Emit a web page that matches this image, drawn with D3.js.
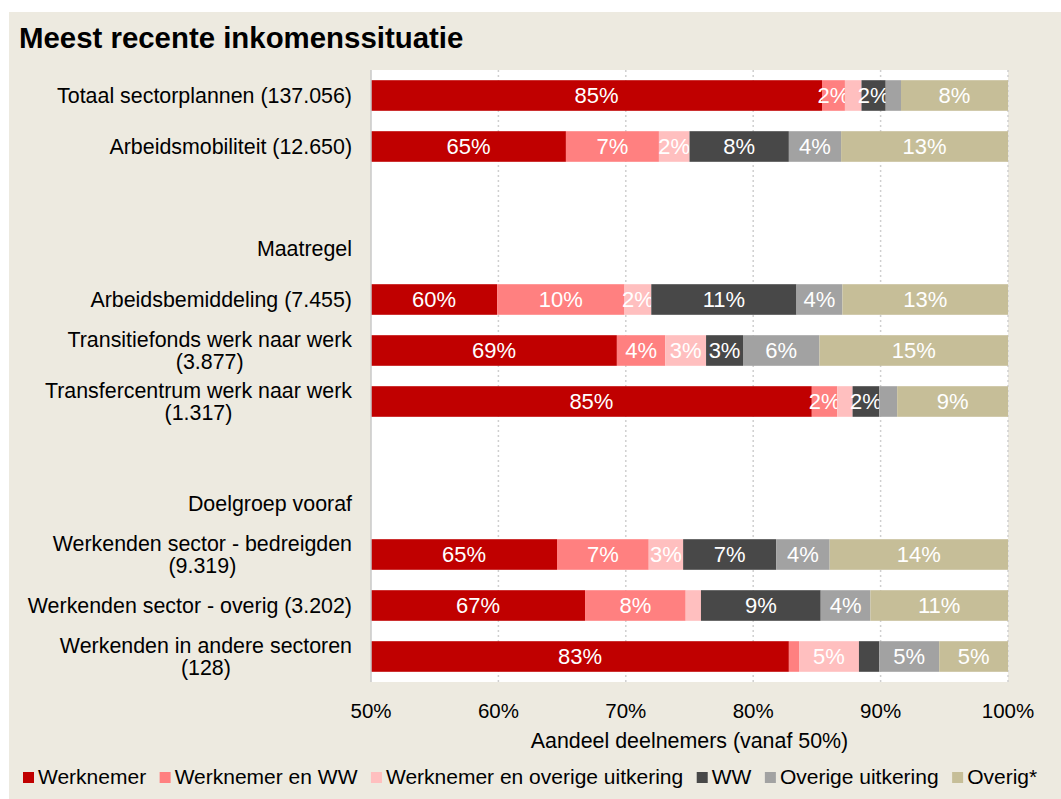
<!DOCTYPE html>
<meta charset="utf-8">
<script src="https://d3js.org/d3.v7.min.js"></script>
<style>
  body { margin: 0; }
  text { font-family: "Liberation Sans", Arial, sans-serif; }
</style>
<div id="chart"></div>
<script>

  // rows of the chart (empty rows and group headers have no values)
  var categories = [
    ["Totaal sectorplannen (137.056)"],
    ["Arbeidsmobiliteit (12.650)"],
    [""],
    ["Maatregel"],
    ["Arbeidsbemiddeling (7.455)"],
    ["Transitiefonds werk naar werk", "(3.877)"],
    ["Transfercentrum werk naar werk", "(1.317)"],
    [""],
    ["Doelgroep vooraf"],
    ["Werkenden sector - bedreigden", "(9.319)"],
    ["Werkenden sector - overig (3.202)"],
    ["Werkenden in andere sectoren", "(128)"]
  ];

  var seriesNames = ["Werknemer", "Werknemer en WW", "Werknemer en overige uitkering", "WW", "Overige uitkering", "Overig*"];
  var seriesColors = ["#C00000", "#FF8080", "#FFBFBF", "#484848", "#A2A2A2", "#C6BE98"];

  var werknemer        = [85.4, 65.3, null, null, 59.9, 69.3, 84.6, null, null, 64.6, 66.8, 82.8];
  var werknemerWW      = [ 1.8,  7.3, null, null, 10.0,  3.8,  2.0, null, null,  7.2,  7.9,  0.8];
  var werknemerOverig  = [ 1.3,  2.4, null, null,  2.1,  3.2,  1.2, null, null,  2.7,  1.2,  4.7];
  var ww               = [ 1.9,  7.8, null, null, 11.4,  2.9,  2.1, null, null,  7.3,  9.4,  1.6];
  var overigeUitkering = [ 1.2,  4.1, null, null,  3.6,  6.0,  1.4, null, null,  4.2,  3.9,  4.7];
  var overig           = [ 8.4, 13.1, null, null, 13.0, 14.8,  8.7, null, null, 14.0, 10.8,  5.4];

  var xTicks = [50, 60, 70, 80, 90, 100];

  var seriesValues = [werknemer, werknemerWW, werknemerOverig, ww, overigeUitkering, overig];

  var table = categories.map(function(c, i) {
    var row = { id: i, lines: c, empty: werknemer[i] === null };
    seriesNames.forEach(function(s, j) { row[s] = seriesValues[j][i] || 0; });
    return row;
  });

  var W = 1061, H = 799;
  var plot = { left: 371, right: 1008, top: 70, bottom: 682 };

  var svg = d3.select("#chart")
    .append("svg")
      .attr("width", W)
      .attr("height", H);

  svg.append("rect").attr("width", W).attr("height", H).attr("fill", "#ffffff");
  svg.append("rect")
    .attr("x", 9).attr("y", 12)
    .attr("width", W - 9).attr("height", H - 12)
    .attr("fill", "#EDEAE0");

  svg.append("text")
    .attr("x", 19)
    .attr("y", 48)
    .attr("font-size", "29.4px")
    .attr("font-weight", "bold")
    .attr("fill", "#000")
    .text("Meest recente inkomenssituatie");

  var x = d3.scaleLinear()
    .domain([50, 100])
    .range([plot.left, plot.right]);

  var y = d3.scaleBand()
    .domain(table.map(function(d) { return d.id; }))
    .range([plot.top, plot.bottom])
    .paddingInner(0.4)
    .paddingOuter(0.2);

  // plot area
  svg.append("rect")
    .attr("x", plot.left).attr("y", plot.top)
    .attr("width", plot.right - plot.left)
    .attr("height", plot.bottom - plot.top)
    .attr("fill", "#ffffff");

  // dotted gridlines
  svg.append("g")
    .selectAll("line")
    .data(xTicks.slice(1))
    .enter()
    .append("line")
      .attr("x1", function(d) { return x(d); })
      .attr("x2", function(d) { return x(d); })
      .attr("y1", plot.top)
      .attr("y2", plot.bottom)
      .attr("stroke", "#CFCFCF")
      .attr("stroke-width", 1.5)
      .attr("stroke-dasharray", "2,3");

  var stack = d3.stack().keys(seriesNames);
  var layers = stack(table);

  var groups = svg.append("g")
    .selectAll("g")
    .data(layers)
    .enter()
    .append("g")
      .attr("fill", function(d, i) { return seriesColors[i]; });

  groups.selectAll("rect")
    .data(function(d) { return d.filter(function(p) { return !p.data.empty; }); })
    .enter()
    .append("rect")
      .attr("x", function(d) { return x(Math.max(50, d[0])); })
      .attr("y", function(d) { return y(d.data.id); })
      .attr("width", function(d) { return Math.max(0, x(d[1]) - x(Math.max(50, d[0]))); })
      .attr("height", y.bandwidth());

  // value labels
  groups.selectAll("text")
    .data(function(d) {
      var key = d.key;
      return d.filter(function(p) { return !p.data.empty && p.data[key] >= 1.7; })
        .map(function(p) { return { x0: Math.max(50, p[0]), x1: p[1], id: p.data.id, v: p.data[key] }; });
    })
    .enter()
    .append("text")
      .attr("x", function(d) { return (x(d.x0) + x(d.x1)) / 2; })
      .attr("y", function(d) { return y(d.id) + y.bandwidth() / 2 + 7.5; })
      .attr("text-anchor", "middle")
      .attr("font-size", "22px")
      .attr("fill", "#ffffff")
      .text(function(d) { return Math.round(d.v) + "%"; });

  // left axis line
  svg.append("line")
    .attr("x1", plot.left).attr("x2", plot.left)
    .attr("y1", plot.top).attr("y2", plot.bottom)
    .attr("stroke", "#C8C8C8")
    .attr("stroke-width", 1.5);

  // category labels
  var catLabels = svg.append("g")
    .selectAll("g")
    .data(table)
    .enter()
    .append("g")
      .attr("transform", function(d) { return "translate(0," + (y(d.id) + y.bandwidth() / 2) + ")"; });

  catLabels.each(function(d) {
    var g = d3.select(this);
    var n = d.lines.length;
    var t = g.selectAll("text")
      .data(d.lines)
      .enter()
      .append("text")
        .attr("y", function(l, i) { return (i - (n - 1) / 2) * 22 + 7; })
        .attr("font-size", "21.4px")
        .attr("fill", "#000")
        .text(function(l) { return l; });
    // multi-line labels are centred on each other, block right aligned
    var maxW = 0;
    t.each(function() { maxW = Math.max(maxW, this.getComputedTextLength()); });
    t.attr("text-anchor", "middle").attr("x", 352 - maxW / 2);
  });

  // x tick labels
  svg.append("g")
    .selectAll("text")
    .data(xTicks)
    .enter()
    .append("text")
      .attr("x", function(d) { return x(d); })
      .attr("y", 718)
      .attr("text-anchor", "middle")
      .attr("font-size", "20.5px")
      .attr("fill", "#000")
      .text(function(d) { return d + "%"; });

  svg.append("text")
    .attr("x", (plot.left + plot.right) / 2)
    .attr("y", 748)
    .attr("text-anchor", "middle")
    .attr("font-size", "21.4px")
    .attr("fill", "#000")
    .text("Aandeel deelnemers (vanaf 50%)");

  // legend
  var legend = svg.append("g");
  var lx = 23;
  seriesNames.forEach(function(s, i) {
    legend.append("rect")
      .attr("x", lx).attr("y", 772)
      .attr("width", 11).attr("height", 11)
      .attr("fill", seriesColors[i]);
    var t = legend.append("text")
      .attr("x", lx + 15)
      .attr("y", 784)
      .attr("font-size", "21px")
      .attr("fill", "#000")
      .text(s);
    lx += 15 + t.node().getComputedTextLength() + 13.5;
  });

</script>
